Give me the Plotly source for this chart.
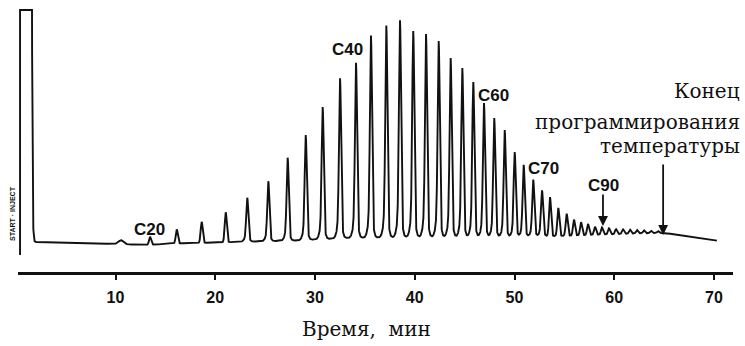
import numpy as np
import plotly.graph_objects as go

# ---------------- data ----------------
# retention times (min) of the n-alkane peaks (every second carbon number)
peak_times = [10.55, 13.46, 16.14, 18.64, 21.05, 23.21, 25.32, 27.26, 29.07, 30.77,
              32.51, 34.11, 35.61, 37.15, 38.52, 39.85, 41.13, 42.40, 43.60, 44.77,
              45.87, 46.94, 47.97, 49.02, 50.02, 50.92, 51.88, 52.76, 53.56, 54.39,
              55.23, 55.96, 56.67, 57.37, 58.07, 58.77, 59.47, 60.18, 60.88, 61.58,
              62.28, 62.98, 63.68, 64.38]
# peak heights above the local baseline (detector units)
peak_heights = [4, 8, 14, 21, 30, 44, 60, 83, 105, 132,
                160, 175, 202, 212, 217, 206, 203, 196, 179, 169,
                155, 134, 119, 107, 85, 72, 57, 46, 39, 28,
                22, 16, 13, 11, 8, 7, 6, 5, 4.5, 4,
                3.5, 3, 2.5, 2]
peak_widths = [0.25] + [0.1] * 43          # sigma of each peak (min)

# detector baseline (min, detector units)
baseline_t = [0.4, 2.0, 6.0, 10.0, 13.0, 16.0, 22.0, 28.0, 33.0, 40.0, 50.0, 56.0, 62.0, 65.0, 67.0, 70.3]
baseline_v = [27.0, 28.0, 27.0, 26.0, 25.0, 26.5, 28.0, 29.5, 32.0, 33.0, 33.0, 34.5, 36.5, 37.0, 34.5, 29.3]

# solvent peak (saturated recorder) and start mark
solvent_start = 0.43
solvent_hold_end = 1.51
solvent_tail = 0.047
solvent_amp = 3000.0
recorder_limit = 260.0
start_mark_bottom = 15.0
run_end = 70.3

# labelled carbon numbers
carbon_labels = ["C20", "C40", "C60", "C70", "C90"]
c90_time = 58.87
program_end_time = 64.9

tick_vals = [10, 20, 30, 40, 50, 60, 70]
tick_text = ["10", "20", "30", "40", "50", "60", "70"]
x_title = "Время,  мин"
end_text = ["Конец", "программирования", "температуры"]
start_text = "START · INJECT"

# ---------------- build the trace ----------------
SH_RATIO, SH_OFF, SH_W = 0.11, 0.05, 0.22
t = np.arange(solvent_start, run_end, 0.01)
sig = np.interp(t, baseline_t, baseline_v)
for pt, ph, pw in zip(peak_times, peak_heights, peak_widths):
    main = ph
    if ph > 40:  # small unresolved companion at the foot of large peaks
        sh = SH_RATIO * ph
        sig = sig + sh * np.exp(-0.5 * ((t - pt + SH_OFF) / SH_W) ** 2)
        main = ph - sh * np.exp(-0.5 * (SH_OFF / SH_W) ** 2)
    sig = sig + main * np.exp(-0.5 * ((t - pt) / pw) ** 2)
solv = np.where(t <= solvent_hold_end, solvent_amp,
                solvent_amp * np.exp(-(t - solvent_hold_end) / solvent_tail))
sig = np.minimum(sig + solv, recorder_limit)

xs = np.concatenate([[solvent_start], t])
ys = np.concatenate([[start_mark_bottom], sig])

W, H = 745, 346
L, R, T, B = 18, 733, 8, 272
X0 = (L - 15.75) / 9.975
X1 = (R - 15.75) / 9.975
Y0 = 270 - B
Y1 = 270 - T


def px(x):
    return (x - L) / (R - L)


def py(y):
    return (B - y) / (B - T)


fig = go.Figure()
fig.add_trace(go.Scatter(x=xs, y=ys, mode="lines",
                         line=dict(color="#111111", width=1.9),
                         hoverinfo="skip", showlegend=False))

ann = []
lab_pos = [(149, 229), (347, 50), (493, 95), (543, 168), (603, 185)]
for lab, (ax_, ay_) in zip(carbon_labels, lab_pos):
    ann.append(dict(text="<b>" + lab + "</b>", xref="paper", yref="paper",
                    x=px(ax_), y=py(ay_), xanchor="center", yanchor="middle",
                    showarrow=False,
                    font=dict(family="Liberation Sans, Arial", size=17, color="#111111")))

SERIF = "DejaVu Serif, Liberation Serif"
for txt, yy in zip(end_text, [91, 122, 146]):
    ann.append(dict(text=txt, xref="paper", yref="paper", x=px(742), y=py(yy),
                    xanchor="right", yanchor="middle", showarrow=False,
                    font=dict(family=SERIF, size=20, color="#111111")))

ann.append(dict(text=x_title, xref="paper", yref="paper", x=px(366), y=py(329),
                xanchor="center", yanchor="middle", showarrow=False,
                font=dict(family=SERIF, size=20, color="#111111")))

ann.append(dict(text="<b>" + start_text + "</b>", xref="paper", yref="paper", x=px(12), y=py(214),
                xanchor="center", yanchor="middle", showarrow=False, textangle=-90,
                font=dict(family="Liberation Sans, Arial", size=7, color="#111111")))

# arrows
for tt, tip, tail in [(c90_time, 270 - 226, 270 - 193), (program_end_time, 270 - 235, 270 - 163)]:
    ann.append(dict(x=tt, y=tip, ax=tt, ay=tail, xref="x", yref="y", axref="x", ayref="y",
                    showarrow=True, arrowhead=2, arrowsize=1.1, arrowwidth=1.8,
                    arrowcolor="#111111", text=""))

fig.update_layout(
    width=W, height=H,
    margin=dict(l=L, r=W - R, t=T, b=H - B),
    paper_bgcolor="white", plot_bgcolor="white",
    annotations=ann,
    xaxis=dict(range=[X0, X1], showgrid=False, zeroline=False,
               showline=True, linecolor="#111111", linewidth=3,
               ticks="outside", ticklen=5, tickwidth=2, tickcolor="#111111",
               tickvals=tick_vals, ticktext=["<b>" + s + "</b>" for s in tick_text],
               ticklabelstandoff=4,
               tickfont=dict(family="Liberation Sans, Arial", size=16, color="#111111")),
    yaxis=dict(range=[Y0, Y1], visible=False, showgrid=False, zeroline=False),
)

fig.write_html("out.html", config={"displayModeBar": False, "staticPlot": True},
               post_script="document.body.style.margin='0';document.body.style.overflow='hidden';")
